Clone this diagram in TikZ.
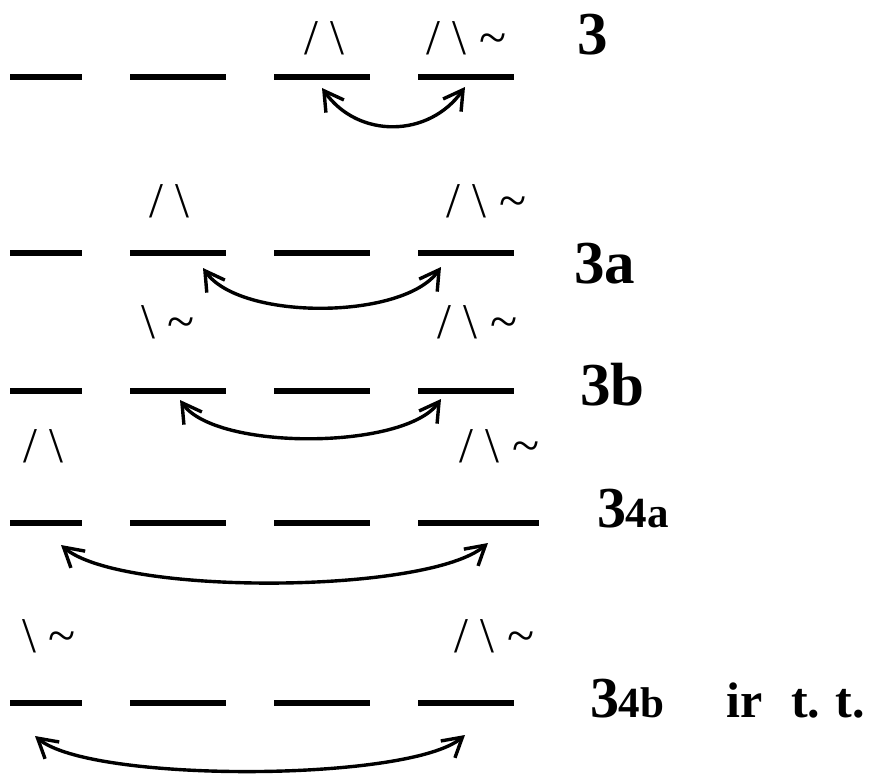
\documentclass[tikz,border=0pt]{standalone}
\usepackage{fontspec}
\setmainfont{Liberation Serif}
\usetikzlibrary{arrows.meta}
\tikzset{
  barbox/.style={fill=black, inner sep=0pt, minimum height=6.5pt},
  symlbl/.style={anchor=base west, inner sep=0pt, font=\fontsize{50}{50}\selectfont},
  rowlbl/.style={anchor=base west, inner sep=0pt, font=\fontsize{61}{61}\selectfont\bfseries},
  swaparc/.style={line width=3.4pt, >={Straight Barb[length=19pt,width=22pt]}, <->},
}
\newcommand{\bs}{\textbackslash}
\newcommand{\tl}{\textasciitilde}
\begin{document}
\begin{tikzpicture}[x=1pt,y=-1pt]
\useasboundingbox (0,0) rectangle (869,773);
% ---------- row 3
\node[barbox, minimum width=72pt] (r1b1) at (46,77) {};
\node[barbox, minimum width=96pt] (r1b2) at (178,77) {};
\node[barbox, minimum width=96pt] (r1b3) at (322,77) {};
\node[barbox, minimum width=96pt] (r1b4) at (466,77) {};
\node[symlbl] (r1l1) at (304,55) {/ \bs};
\node[symlbl] (r1l2) at (426,55) {/ \bs\ \tl};
\node[rowlbl] (r1n) at (577,55) {3};
\coordinate (r1s) at (322,88);
\coordinate (r1e) at (465,87);
\draw[swaparc] (r1s) .. controls +(36,51) and +(-36,51) .. (r1e);
% ---------- row 3a
\node[barbox, minimum width=72pt] (r2b1) at (46,253) {};
\node[barbox, minimum width=96pt] (r2b2) at (178,253) {};
\node[barbox, minimum width=96pt] (r2b3) at (322,253) {};
\node[barbox, minimum width=96pt] (r2b4) at (466,253) {};
\node[symlbl] (r2l1) at (149,217) {/ \bs};
\node[symlbl] (r2l2) at (446,217) {/ \bs\ \tl};
\node[rowlbl] (r2n) at (574,283) {3a};
\coordinate (r2s) at (203,268);
\coordinate (r2e) at (441,267);
\draw[swaparc] (r2s) .. controls +(37,53) and +(-37,53) .. (r2e);
% ---------- row 3b
\node[barbox, minimum width=72pt] (r3b1) at (46,391) {};
\node[barbox, minimum width=96pt] (r3b2) at (178,391) {};
\node[barbox, minimum width=96pt] (r3b3) at (322,391) {};
\node[barbox, minimum width=96pt] (r3b4) at (466,391) {};
\node[symlbl] (r3l1) at (141,338) {\bs\ \tl};
\node[symlbl] (r3l2) at (437,338) {/ \bs\ \tl};
\node[rowlbl] (r3n) at (580,405) {3b};
\coordinate (r3s) at (180,400);
\coordinate (r3e) at (441,399);
\draw[swaparc] (r3s) .. controls +(36,51) and +(-36,51) .. (r3e);
% ---------- row 34a
\node[barbox, minimum width=72pt] (r4b1) at (46,523) {};
\node[barbox, minimum width=96pt] (r4b2) at (178,523) {};
\node[barbox, minimum width=96pt] (r4b3) at (322,523) {};
\node[barbox, minimum width=121pt] (r4b4) at (478.5,523) {};
\node[symlbl] (r4l1) at (23,462) {/ \bs};
\node[symlbl] (r4l2) at (459,462) {/ \bs\ \tl};
\node[anchor=base west, inner sep=0pt] (r4n) at (597,527)
  {{\fontsize{58}{58}\selectfont\bfseries 3}\kern-0.5pt{\fontsize{43}{43}\selectfont\bfseries 4a}};
\coordinate (r4s) at (61,545);
\coordinate (r4e) at (488,543);
\draw[swaparc] (r4s) .. controls +(60,51) and +(-60,51) .. (r4e);
% ---------- row 34b
\node[barbox, minimum width=72pt] (r5b1) at (46,703) {};
\node[barbox, minimum width=96pt] (r5b2) at (178,703) {};
\node[barbox, minimum width=96pt] (r5b3) at (322,703) {};
\node[barbox, minimum width=96pt] (r5b4) at (466,703) {};
\node[symlbl] (r5l1) at (22,652) {\bs\ \tl};
\node[symlbl] (r5l2) at (454,652) {/ \bs\ \tl};
\node[anchor=base west, inner sep=0pt] (r5n) at (590,717)
  {{\fontsize{58}{58}\selectfont\bfseries 3}\kern-0.5pt{\fontsize{43}{43}\selectfont\bfseries 4b}};
\node[anchor=base west, inner sep=0pt, font=\fontsize{50}{50}\selectfont\bfseries] (r5t) at (726,717)
  {ir\hspace{29pt}t.\hspace{15pt}t.};
\coordinate (r5s) at (35,736);
\coordinate (r5e) at (465,735);
\draw[swaparc] (r5s) .. controls +(56,47) and +(-56,47) .. (r5e);
\end{tikzpicture}
\end{document}
